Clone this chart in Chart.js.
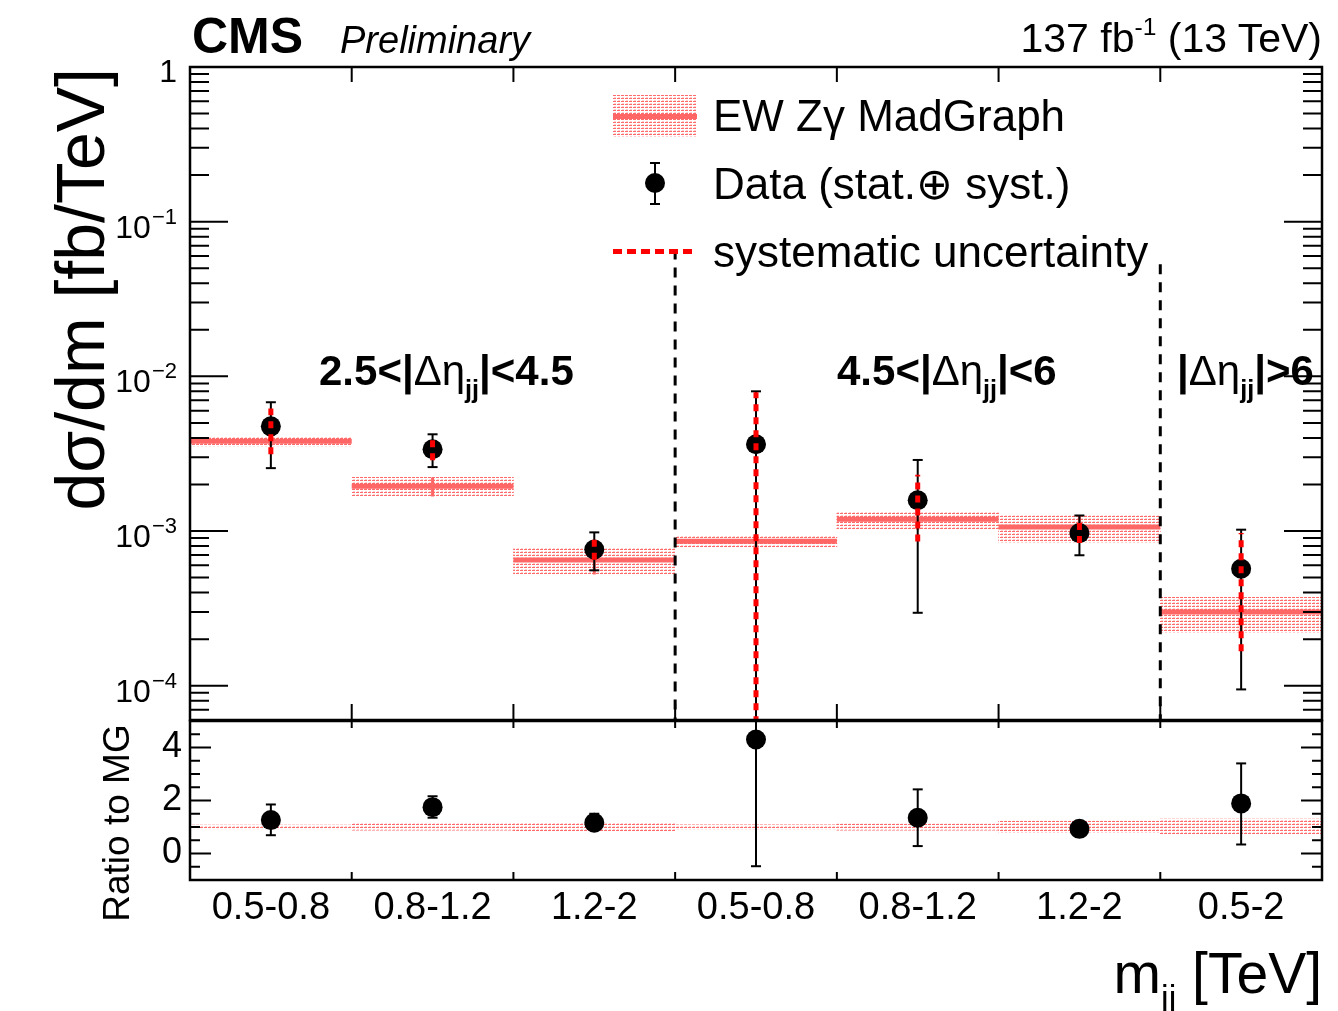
<!DOCTYPE html>
<html>
<head>
<meta charset="utf-8">
<script src="https://cdn.jsdelivr.net/npm/chart.js@4"></script>
<style>
  body { margin: 0; background: #fff; }
  #wrap { position: relative; width: 1338px; height: 1011px; overflow: hidden;
          font-family: "Liberation Sans", Arial, Helvetica, sans-serif; color: #000; }
  canvas { position: absolute; left: 0; }
  .txt { position: absolute; white-space: nowrap; line-height: 1; }
  .sw { position: absolute; }
  sub { font-size: 0.6em; vertical-align: -0.5em; line-height: 0; }
  sup { font-size: 0.6em; vertical-align: 0.7em; line-height: 0; }
  .sym { font-weight: normal; }
</style>
</head>
<body>
<div id="wrap">
  <canvas id="main" width="1338" height="730" style="top:0"></canvas>
  <canvas id="ratio" width="1338" height="340" style="top:671px"></canvas>

  <div class="txt" style="left:192px;top:10.7px;font-size:50px;font-weight:bold">CMS</div>
  <div class="txt" style="left:340px;top:20.8px;font-size:38px;font-style:italic">Preliminary</div>
  <div class="txt" style="right:16px;top:17.5px;font-size:41px">137 fb<sup>-1</sup> (13 TeV)</div>

  <div class="txt" style="left:46.3px;top:668px;width:600px;text-align:right;font-size:68px;transform-origin:0 0;transform:rotate(-90deg)">dσ/dm [fb/TeV]</div>
  <div class="txt" style="left:97.7px;top:973px;width:300px;text-align:center;font-size:37px;transform-origin:0 0;transform:rotate(-90deg)">Ratio to MG</div>
  <div class="txt" style="right:16px;top:944.7px;font-size:57px">m<sub>jj</sub> [TeV]</div>

  <div class="txt" style="left:319px;top:349.5px;font-size:42px;font-weight:bold">2.5&lt;|<span class="sym">Δη</span><sub>jj</sub>|&lt;4.5</div>
  <div class="txt" style="left:837px;top:349.5px;font-size:42px;font-weight:bold">4.5&lt;|<span class="sym">Δη</span><sub>jj</sub>|&lt;6</div>
  <div class="txt" style="left:1177px;top:349.5px;font-size:42px;font-weight:bold">|<span class="sym">Δη</span><sub>jj</sub>|&gt;6</div>

  <div id="legBand" class="sw" style="left:613px;top:95px;width:84px;height:42px"></div>
  <div class="sw" style="left:613px;top:113.5px;width:84px;height:5px;background:#ff6666"></div>
  <div class="txt" style="left:713px;top:93.7px;font-size:44px">EW Zγ MadGraph</div>

  <div class="sw" style="left:654px;top:163px;width:2px;height:41px;background:#000"></div>
  <div class="sw" style="left:650px;top:162px;width:10px;height:2px;background:#000"></div>
  <div class="sw" style="left:650px;top:203px;width:10px;height:2px;background:#000"></div>
  <div class="sw" style="left:645px;top:173px;width:20px;height:20px;border-radius:50%;background:#000"></div>
  <div class="txt" style="left:713px;top:161.7px;font-size:44px">Data (stat.⊕ syst.)</div>

  <div class="sw" style="left:613px;top:248.5px;width:84px;height:5px;background:repeating-linear-gradient(90deg,#ff0000 0 9px,transparent 9px 14px)"></div>
  <div class="txt" style="left:713px;top:229.7px;font-size:44px">systematic uncertainty</div>
</div>

<script>
// bins of m_jj in three |delta eta_jj| regions
const categories = ['0.5-0.8', '0.8-1.2', '1.2-2', '0.5-0.8', '0.8-1.2', '1.2-2', '0.5-2'];

// EW Zgamma MadGraph prediction [fb/TeV]
const mgCentral = [3.8e-3, 1.95e-3, 6.5e-4, 8.6e-4, 1.19e-3, 1.06e-3, 3.0e-4];
const mgLow     = [3.53e-3, 1.67e-3, 5.23e-4, 7.9e-4, 1.02e-3, 8.4e-4, 2.2e-4];
const mgHigh    = [4.04e-3, 2.22e-3, 7.85e-4, 9.3e-4, 1.34e-3, 1.26e-3, 3.73e-4];

// measured data, total and systematic error
const dataValue = [4.75e-3, 3.38e-3, 7.6e-4, 3.64e-3, 1.58e-3, 9.7e-4, 5.7e-4];
const dataLow   = [2.55e-3, 2.59e-3, 5.57e-4, 1e-5, 2.96e-4, 6.97e-4, 9.46e-5];
const dataHigh  = [6.8e-3, 4.22e-3, 9.8e-4, 8.0e-3, 2.88e-3, 1.26e-3, 1.02e-3];
const systLow   = [3.14e-3, 2.87e-3, 6.53e-4, 1e-5, 8.57e-4, 8.37e-4, 1.67e-4];
const systHigh  = [6.2e-3, 3.92e-3, 8.8e-4, 7.9e-3, 2.31e-3, 1.13e-3, 9.7e-4];

// ratio panel
const ratioValue    = [1.26, 1.75, 1.16, 4.3, 1.35, 0.93, 1.89];
const ratioLow      = [0.69, 1.35, 0.9, -0.48, 0.28, 0.85, 0.34];
const ratioHigh     = [1.85, 2.16, 1.5, 6, 2.42, 1.0, 3.4];
const ratioBandLow  = [0.93, 0.88, 0.84, 0.92, 0.88, 0.79, 0.74];
const ratioBandHigh = [1.07, 1.13, 1.18, 1.08, 1.12, 1.22, 1.30];

// axes
const logMajor = [1e-4, 1e-3, 1e-2, 1e-1, 1];
const ratioTicks = [0, 2, 4];
const binEdges = [0.5, 1.5, 2.5, 3.5, 4.5, 5.5];
const dividerX = [2.5, 5.5];
const dividerTop = [0.066, 0.053];
const yMin = 6e-5, yMax = 1;

const FONT = '"Liberation Sans", Arial, Helvetica, sans-serif';
Chart.defaults.font.family = FONT;
Chart.defaults.color = '#000';

// dotted fill like the ROOT band
const tile = document.createElement('canvas');
tile.width = 4; tile.height = 3;
const tg = tile.getContext('2d');
tg.fillStyle = '#ff6a6a';
tg.fillRect(0, 0, 3, 1);
tg.fillStyle = 'rgba(255,120,120,0.35)';
tg.fillRect(1, 2, 2, 1);
document.getElementById('legBand').style.backgroundImage = `url(${tile.toDataURL()})`;

const idx = categories.map((_, i) => i);
const vbars = (lo, hi) => idx.flatMap(i => [{x: i, y: lo[i]}, {x: i, y: hi[i]}, {x: i, y: null}]);
const hbars = v => idx.flatMap(i => [{x: i - 0.5, y: v[i]}, {x: i + 0.5, y: v[i]}, {x: i + 0.5, y: null}]);
const caps = (lo, hi) => idx.flatMap(i => [{x: i, y: lo[i]}, {x: i, y: hi[i]}]);
const pts = v => idx.map(i => ({x: i, y: v[i]}));
const band = (lo, hi) => idx.map(i => ({x: i, y: [lo[i], hi[i]]}));

const logMinor = [];
for (let e = -5; e < 0; e++) {
  for (let k = 2; k <= 9; k++) {
    const v = k * Math.pow(10, e);
    if (v > yMin) logMinor.push(v);
  }
}
const ratioMinor = [];
for (let v = -0.5; v < 5; v += 0.5) if (!ratioTicks.includes(v)) ratioMinor.push(v);

// ROOT style frame with inward ticks
const framePlugin = {
  id: 'frame',
  afterDraw(chart, args, o) {
    const {ctx, chartArea: a, scales} = chart;
    const x = scales.x, y = scales.y;
    ctx.save();
    ctx.strokeStyle = '#000';
    ctx.lineWidth = 2;
    ctx.beginPath();
    const seg = (x0, y0, x1, y1) => { ctx.moveTo(x0, y0); ctx.lineTo(x1, y1); };
    o.yMajor.forEach(v => {
      const p = y.getPixelForValue(v);
      seg(a.left, p, a.left + o.majorLen, p);
      seg(a.right, p, a.right - o.majorLen, p);
    });
    o.yMinor.forEach(v => {
      const p = y.getPixelForValue(v);
      seg(a.left, p, a.left + o.minorLen, p);
      seg(a.right, p, a.right - o.minorLen, p);
    });
    binEdges.forEach(v => {
      const p = x.getPixelForValue(v);
      seg(p, a.top, p, a.top + o.topLen);
      seg(p, a.bottom, p, a.bottom - o.bottomLen);
    });
    ctx.stroke();
    ctx.lineWidth = 2.5;
    ctx.strokeRect(a.left, a.top, a.right - a.left, a.bottom - a.top);

    if (o.logLabels) {
      ctx.fillStyle = '#000';
      ctx.textAlign = 'right';
      ctx.textBaseline = 'alphabetic';
      const xr = a.left - 13;
      logMajor.forEach(v => {
        const p = y.getPixelForValue(v);
        const e = Math.round(Math.log10(v));
        ctx.font = `32px ${FONT}`;
        if (e === 0) { ctx.fillText('1', xr, p + 15); return; }
        const sup = '\u2212' + (-e);
        ctx.font = `22px ${FONT}`;
        const w = ctx.measureText(sup).width;
        ctx.fillText(sup, xr, p + 2);
        ctx.font = `32px ${FONT}`;
        ctx.fillText('10', xr - w - 1, p + 16);
      });
    }
    ctx.restore();
  }
};

const xScale = (show) => ({
  type: 'linear', min: -0.5, max: 6.5, offset: false, display: show,
  grid: {display: false, drawTicks: false}, border: {display: false},
  ticks: {font: {size: 38}, padding: 6, maxRotation: 0, autoSkip: false,
          callback: v => categories[v] ?? ''},
  afterBuildTicks: s => { s.ticks = idx.map(v => ({value: v})); },
  afterFit: s => { if (show) s.height = 131; }
});

const common = {
  responsive: false, animation: false, events: [],
  plugins: {legend: {display: false}, tooltip: {enabled: false}}
};

new Chart(document.getElementById('main'), {
  type: 'scatter',
  data: {
    datasets: [
      {type: 'bar', data: band(mgLow, mgHigh), backgroundColor: ctxPattern('main'),
       barPercentage: 1, categoryPercentage: 1, borderWidth: 0, order: 8},
      {type: 'line', data: hbars(mgCentral), borderColor: '#ff6666', borderWidth: 5,
       pointRadius: 0, order: 7, clip: 0},
      {type: 'line', data: vbars(mgLow, mgHigh), borderColor: '#ff6666', borderWidth: 3,
       pointRadius: 0, order: 6, clip: 0},
      {type: 'line', data: dividerX.flatMap((x, i) => [{x, y: dividerTop[i]}, {x, y: yMin}, {x, y: null}]),
       borderColor: '#000', borderWidth: 3, borderDash: [10, 8], pointRadius: 0, order: 5, clip: 0},
      {type: 'line', data: vbars(dataLow, dataHigh), borderColor: '#000', borderWidth: 2,
       pointRadius: 0, order: 4, clip: 0},
      {data: caps(dataLow, dataHigh), pointStyle: 'line', pointRadius: 5,
       pointBorderWidth: 2, pointBorderColor: '#000', order: 3, clip: 0},
      {data: pts(dataValue), pointRadius: 10, pointBackgroundColor: '#000',
       pointBorderWidth: 0, order: 2},
      {type: 'line', data: vbars(systLow, systHigh), borderColor: '#ff0000', borderWidth: 5,
       borderDash: [7, 6], pointRadius: 0, order: 1, clip: 0}
    ]
  },
  options: {
    ...common,
    layout: {padding: {left: 0, right: 16, top: 67, bottom: 9}},
    scales: {
      x: xScale(false),
      y: {type: 'logarithmic', min: yMin, max: yMax,
          grid: {display: false, drawTicks: false}, border: {display: false},
          ticks: {display: false},
          afterFit: s => { s.width = 190; }}
    },
    plugins: {...common.plugins,
      frame: {yMajor: logMajor, yMinor: logMinor, majorLen: 38, minorLen: 19,
              topLen: 15, bottomLen: 16, logLabels: true}}
  },
  plugins: [framePlugin]
});

new Chart(document.getElementById('ratio'), {
  type: 'scatter',
  data: {
    datasets: [
      {type: 'bar', data: band(ratioBandLow, ratioBandHigh), backgroundColor: ctxPattern('ratio'),
       barPercentage: 1, categoryPercentage: 1, borderWidth: 0, order: 4},
      {type: 'line', data: vbars(ratioLow, ratioHigh), borderColor: '#000', borderWidth: 2,
       pointRadius: 0, order: 3, clip: 0},
      {data: caps(ratioLow, ratioHigh), pointStyle: 'line', pointRadius: 5,
       pointBorderWidth: 2, pointBorderColor: '#000', order: 2, clip: 0},
      {data: pts(ratioValue), pointRadius: 10, pointBackgroundColor: '#000',
       pointBorderWidth: 0, order: 1}
    ]
  },
  options: {
    ...common,
    layout: {padding: {left: 0, right: 16, top: 50, bottom: 0}},
    scales: {
      x: xScale(true),
      y: {type: 'linear', min: -1, max: 5,
          grid: {display: false, drawTicks: false}, border: {display: false},
          ticks: {font: {size: 36}, padding: 8, callback: v => String(v)},
          afterBuildTicks: s => { s.ticks = ratioTicks.map(v => ({value: v})); },
          afterFit: s => { s.width = 190; }}
    },
    plugins: {...common.plugins,
      frame: {yMajor: ratioTicks, yMinor: ratioMinor, majorLen: 21, minorLen: 10,
              topLen: 7, bottomLen: 8, logLabels: false}}
  },
  plugins: [framePlugin]
});

function ctxPattern(id) {
  return document.getElementById(id).getContext('2d').createPattern(tile, 'repeat');
}
</script>
</body>
</html>
